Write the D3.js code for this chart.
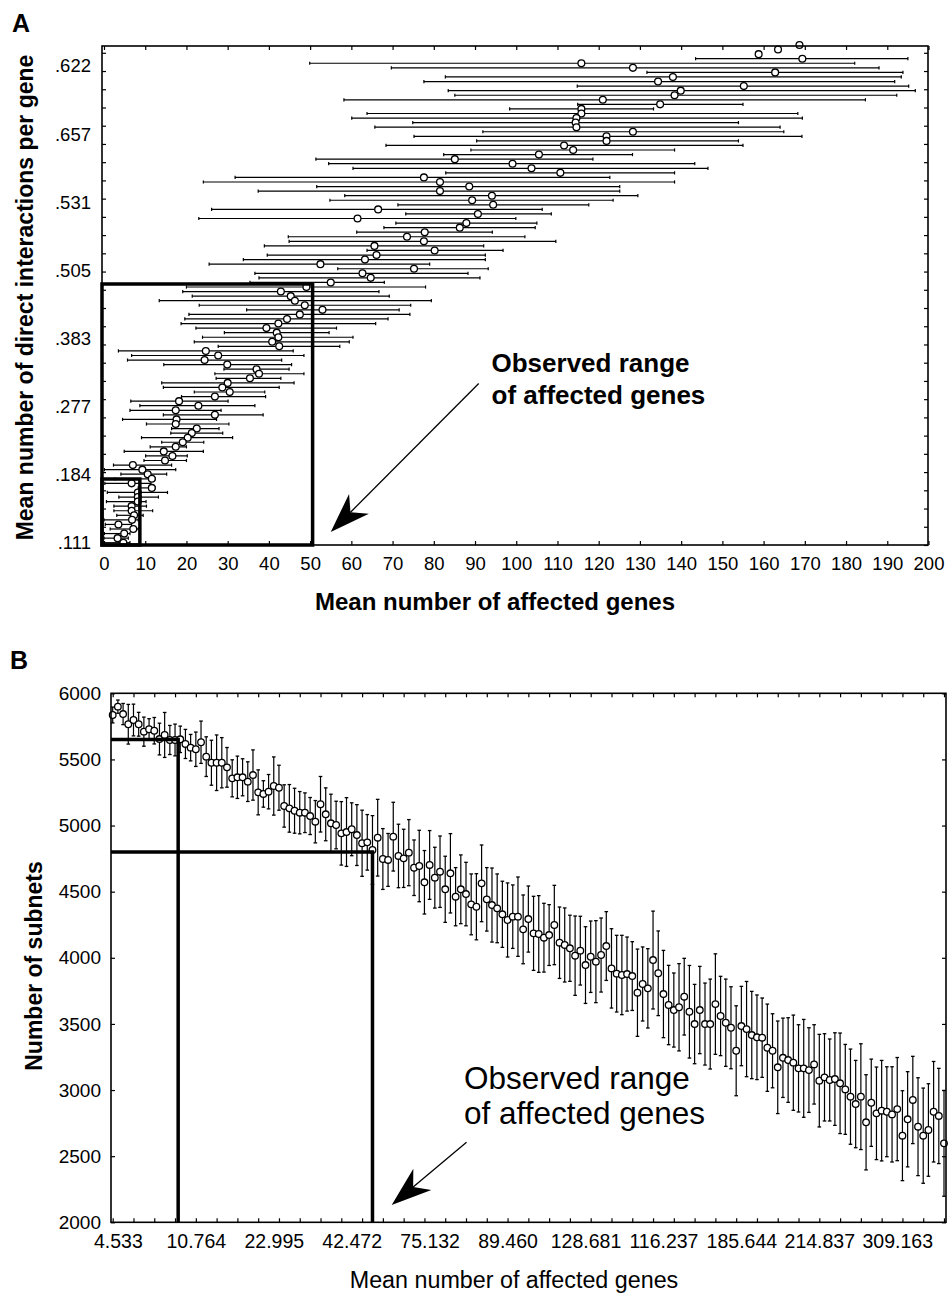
<!DOCTYPE html>
<html>
<head>
<meta charset="utf-8">
<script src="https://cdn.jsdelivr.net/npm/d3@7"></script>
<style>
  html, body { margin: 0; padding: 0; background: #fff; }
  svg { display: block; font-family: "Liberation Sans", Arial, Helvetica, sans-serif; }
</style>
</head>
<body>
<div id="chart"></div>
<script>
const WIDTH = 948;
const HEIGHT = 1294;

// ---- panel A : one row per simulated subnet size, top to bottom ----
const aYLabels = [".111", ".184", ".277", ".383", ".505", ".531", ".657", ".622"];

const aLow = [null, null, null,
  143.5, 49.9, 69.7, 131.7, 82.8, 77.6, 114.8, 83.5, 85.1, 58.2,
  114.9, 98.4, 63.8, 60.1, 74.9, 65.7, 91.9, 75.2, 90.4, 68.4,
  89.0, 82.4, 51.4, 54.5, 60.4, 82.9, 31.8, 24.1, 51.6, 37.4,
  58.4, 54.8, 71.3, 26.1, 73.2, 23.0, 70.8, 67.9, 61.3, 44.7,
  44.9, 38.9, 63.8, 39.6, 33.8, 25.5, 56.7, 36.6, 37.6, 35.4,
  20.0, 19.1, 21.4, 13.4, 23.1, 34.6, 20.6, 19.6, 18.7, 22.3,
  29.2, 23.9, 21.9, 27.7, 3.5, 6.7, 5.7, 14.5, 29.1, 26.9,
  27.2, 14.0, 14.4, 21.9, 18.8, 6.5, 8.7, 6.3, 14.4, 4.5,
  10.3, 16.4, 16.2, 9.1, 14.0, 11.2, 4.9, 10.1, 9.7, 2.3,
  0.1, 4.1, 2.7, 0.2, 8.3, 0.8, 3.6, 0.6, 2.4, 2.4,
  3.1, 0.0, 0.3, 1.5, 0.1, 0.0, 0.0];

const aMean = [168.7, 163.5, 158.8,
  169.4, 115.8, 128.3, 162.8, 138.0, 134.4, 155.2, 139.9, 138.4, 121.0,
  134.9, 115.8, 115.8, 114.6, 114.4, 114.6, 128.3, 121.9, 121.9, 111.6,
  113.8, 105.5, 85.1, 99.1, 103.7, 110.7, 77.6, 81.5, 88.6, 81.5,
  94.1, 89.3, 94.4, 66.5, 90.7, 61.5, 87.9, 86.3, 77.8, 73.5,
  77.6, 65.6, 80.2, 66.1, 63.3, 52.5, 75.2, 62.7, 64.7, 55.0,
  49.1, 42.9, 45.3, 46.3, 48.7, 53.0, 47.5, 44.4, 42.3, 39.4,
  41.9, 42.3, 40.8, 42.5, 24.7, 27.7, 24.4, 29.9, 37.0, 37.6,
  35.4, 30.0, 28.7, 30.5, 26.9, 18.2, 22.9, 17.4, 26.9, 17.6,
  17.4, 22.5, 21.3, 20.3, 19.1, 17.4, 14.5, 16.6, 14.8, 7.0,
  9.3, 10.6, 11.6, 6.7, 11.6, 8.2, 8.2, 8.2, 6.7, 6.7,
  7.3, 6.8, 3.5, 7.1, 4.9, 3.3, 4.7];

const aHigh = [null, null, null,
  195.0, 182.1, 188.0, 193.8, 193.4, 191.8, 195.2, 196.8, 192.3, 184.7,
  155.0, 133.3, 168.3, 169.4, 153.9, 164.0, 164.9, 169.3, 153.9, 155.0,
  138.4, 128.2, 118.6, 143.3, 146.5, 138.4, 122.7, 138.4, 125.1, 125.1,
  129.5, 123.5, 117.6, 106.3, 108.5, 99.9, 105.0, 104.6, 94.2, 102.1,
  109.6, 92.1, 96.8, 92.5, 92.5, 79.0, 93.2, 88.3, 91.2, 68.0,
  78.0, 66.7, 69.2, 79.4, 74.4, 71.6, 74.2, 68.9, 65.9, 56.4,
  54.6, 60.4, 59.5, 57.2, 45.9, 48.5, 43.1, 45.5, 44.9, 48.5,
  42.9, 46.1, 42.5, 39.0, 39.2, 30.1, 36.6, 28.4, 38.6, 27.3,
  30.3, 27.9, 28.8, 31.2, 24.2, 20.0, 24.1, 20.2, 20.0, 16.4,
  17.4, 15.2, 12.4, 11.4, 12.4, 15.4, 13.2, 10.2, 10.3, 11.8,
  9.5, 8.3, 6.7, 8.3, 6.3, 5.9, 6.3];

// ---- panel B : subnet counts along the ordered sizes ----
const bXLabels = ["4.533", "10.764", "22.995", "42.472", "75.132", "89.460",
  "128.681", "116.237", "185.644", "214.837", "309.163"];

const bMean = [
  5836, 5899, 5843, 5766, 5798, 5766, 5710, 5728, 5717, 5654,
  5685, 5647, 5647, 5652, 5617, 5589, 5577, 5630, 5521, 5475,
  5475, 5475, 5440, 5357, 5365, 5365, 5332, 5382, 5251, 5239,
  5256, 5299, 5286, 5148, 5130, 5112, 5097, 5097, 5072, 5029,
  5161,
  5085, 5017, 5004, 4941, 4951, 4972, 4928, 4866, 4873, 4815,
  4908, 4747, 4740, 4916, 4770, 4752, 4795, 4681, 4694, 4571,
  4702, 4606, 4651, 4518, 4639, 4462, 4518, 4482, 4404, 4386,
  4563, 4442, 4399, 4374, 4329, 4286, 4311, 4311, 4215, 4293,
  4185, 4180, 4152, 4172, 4248, 4114, 4097, 4072, 4016, 4054,
  3945, 4008, 3971, 4021, 4089, 3920,
  3880,
  3870, 3877, 3862, 3736, 3802, 3769, 3983, 3883, 3726, 3643,
  3605, 3626, 3706, 3592, 3499, 3605, 3499, 3499, 3650, 3560,
  3509, 3471, 3297, 3484, 3461, 3416, 3399, 3396, 3320, 3297,
  3172, 3244, 3227, 3207, 3164, 3164, 3151, 3194, 3071, 3096,
  3076, 3083, 3051, 3005, 2950, 2894, 2950, 2756, 2904, 2824,
  2844, 2836, 2816, 2856, 2655, 2779, 2925, 2723, 2655, 2698,
  2836, 2804, 2597];

// half length of each error bar
const bErr = [
  60, 50, 80, 150, 120, 90, 110, 80, 100, 120,
  170, 110, 120, 100, 110, 100, 130, 160, 150, 170,
  210, 190, 150, 140, 160, 140, 150, 190, 170, 100,
  130, 220, 170, 160, 180, 170, 160, 150, 140, 160,
  210,
  200, 220, 180, 240, 260, 200, 230, 250, 210, 260,
  290, 230, 200, 260, 240, 220, 250, 210, 270, 240,
  260, 230, 270, 250, 300, 220, 260, 240, 230, 250,
  290, 240, 280, 260, 250, 280, 240, 300, 260, 250,
  280, 290, 260, 230, 300, 270, 280, 250, 300, 260,
  290, 270, 310, 280, 260, 300,
  290, 300, 280, 260, 330, 280, 300, 370, 320, 330,
  300, 280, 330, 290, 350, 300, 330, 310, 340, 380,
  300, 330, 310, 340, 300, 360, 330, 320, 300, 330,
  280, 350, 300, 320, 360, 330, 370, 320, 300, 350,
  330, 310, 350, 380, 340, 360, 330, 400, 360, 330,
  350, 380, 340, 360, 390, 340, 360, 330, 370, 360,
  350, 380, 360, 400];

const svg = d3.select("#chart")
  .append("svg")
  .attr("width", WIDTH)
  .attr("height", HEIGHT);

// draws a line ending in a filled dart-shaped head
function arrow(g, x1, y1, x2, y2) {
  const len = Math.hypot(x2 - x1, y2 - y1);
  const ux = (x2 - x1) / len, uy = (y2 - y1) / len;
  const px = -uy, py = ux;
  const hl = 40, hw = 14, notch = 28;
  g.append("line")
    .attr("x1", x1).attr("y1", y1)
    .attr("x2", x2 - ux * notch).attr("y2", y2 - uy * notch)
    .attr("stroke", "#000").attr("stroke-width", 1.3);
  g.append("path")
    .attr("d", `M${x2},${y2}
      L${x2 - ux * hl + px * hw},${y2 - uy * hl + py * hw}
      L${x2 - ux * notch},${y2 - uy * notch}
      L${x2 - ux * hl - px * hw},${y2 - uy * hl - py * hw}Z`)
    .attr("fill", "#000");
}

function styleAxis(g, size) {
  g.select(".domain").remove();
  g.selectAll("line").attr("stroke", "#000").attr("stroke-width", 1.2);
  g.selectAll("text").attr("fill", "#000").style("font-size", size + "px");
}

// ================= PANEL A =================
const A = { left: 102, right: 928, top: 46, bottom: 545 };
const xA = d3.scaleLinear().domain([0, 200]).range([104, 928.5]);
const yA = d3.scaleLinear().domain([0, 7]).range([543, 66]);
const rowY = d3.scalePoint().domain(d3.range(aMean.length)).range([45, 542.7]);
const minorA = d3.scaleLinear().domain([0, 27]).range([545, 52.8]);

const gA = svg.append("g");

gA.append("text")
  .attr("x", 12).attr("y", 32)
  .text("A")
  .style("font-size", "25px").style("font-weight", "700");

const aRows = aMean.map((c, i) => ({ i, lo: aLow[i], c, hi: aHigh[i] }));
const withBars = aRows.filter(d => d.lo !== null);

gA.selectAll(".hbar")
  .data(withBars)
  .enter().append("line")
  .attr("x1", d => xA(d.lo)).attr("x2", d => xA(d.hi))
  .attr("y1", d => rowY(d.i)).attr("y2", d => rowY(d.i))
  .attr("stroke", "#000").attr("stroke-width", 1.2);

gA.selectAll(".capL")
  .data(withBars.flatMap(d => [d.lo, d.hi].map(v => ({ i: d.i, v }))))
  .enter().append("line")
  .attr("x1", d => xA(d.v)).attr("x2", d => xA(d.v))
  .attr("y1", d => rowY(d.i) - 1.6).attr("y2", d => rowY(d.i) + 1.6)
  .attr("stroke", "#000").attr("stroke-width", 1.2);

gA.selectAll(".dotA")
  .data(aRows)
  .enter().append("circle")
  .attr("cx", d => xA(d.c)).attr("cy", d => rowY(d.i))
  .attr("r", 3.4)
  .attr("fill", "#fff").attr("stroke", "#000").attr("stroke-width", 1.3);

// frame and inner ticks
gA.append("rect")
  .attr("x", A.left).attr("y", A.top)
  .attr("width", A.right - A.left).attr("height", A.bottom - A.top)
  .attr("fill", "none").attr("stroke", "#000").attr("stroke-width", 1.6);

const xTicksA = d3.range(0, 201, 10);
gA.append("g").attr("transform", `translate(0,${A.bottom})`)
  .call(d3.axisBottom(xA).tickValues(xTicksA).tickSizeInner(-4).tickSizeOuter(0).tickPadding(12))
  .call(g => styleAxis(g, 18.5));
gA.append("g").attr("transform", `translate(0,${A.top})`)
  .call(d3.axisTop(xA).tickValues(xTicksA).tickSizeInner(-4).tickSizeOuter(0).tickFormat(""))
  .call(g => styleAxis(g, 18));
gA.append("g").attr("transform", `translate(${A.left},0)`)
  .call(d3.axisLeft(minorA).tickValues(d3.range(28)).tickSizeInner(-4).tickSizeOuter(0).tickFormat(""))
  .call(g => styleAxis(g, 18));
gA.append("g").attr("transform", `translate(${A.right},0)`)
  .call(d3.axisRight(minorA).tickValues(d3.range(28)).tickSizeInner(-4).tickSizeOuter(0).tickFormat(""))
  .call(g => styleAxis(g, 18));
gA.append("g").attr("transform", `translate(${A.left},0)`)
  .call(d3.axisLeft(yA).tickValues(d3.range(8)).tickSize(0).tickPadding(11)
    .tickFormat(i => aYLabels[i]))
  .call(g => styleAxis(g, 18.5));

// observed range boxes
const aBoxes = [{ x: 50.6, y: 3.80 }, { x: 8.7, y: 0.94 }];
gA.selectAll(".box")
  .data(aBoxes)
  .enter().append("path")
  .attr("d", d => `M${A.left},${yA(d.y)}H${xA(d.x)}V${A.bottom}H${A.left}Z`)
  .attr("fill", "none").attr("stroke", "#000").attr("stroke-width", 3.5);

arrow(gA, xA(90.9), yA(2.34), xA(55.0), yA(0.16));

gA.append("text")
  .attr("x", xA(94)).attr("y", yA(2.51))
  .style("font-size", "26px").style("font-weight", "700")
  .selectAll("tspan")
  .data(["Observed range", "of affected genes"])
  .enter().append("tspan")
  .attr("x", xA(94))
  .attr("dy", (d, i) => i ? 32 : 0)
  .text(d => d);

gA.append("text")
  .attr("x", 495).attr("y", 610)
  .attr("text-anchor", "middle")
  .style("font-size", "24px").style("font-weight", "700")
  .text("Mean number of affected genes");

gA.append("text")
  .attr("transform", `translate(33,${(A.top + A.bottom) / 2 + 2}) rotate(-90)`)
  .attr("text-anchor", "middle")
  .style("font-size", "23px").style("font-weight", "700")
  .text("Mean number of direct interactions per gene");

// ================= PANEL B =================
const B = { left: 111, right: 946, top: 693.3, bottom: 1222.3 };
const xB = d3.scaleLinear().domain([0, bMean.length - 1]).range([112.7, 944]);
const yB = d3.scaleLinear().domain([2000, 6000]).range([B.bottom, B.top]);

const gB = svg.append("g");

gB.append("text")
  .attr("x", 10).attr("y", 669)
  .text("B")
  .style("font-size", "25px").style("font-weight", "700");

const bData = bMean.map((m, i) => ({ i, m, e: bErr[i] }));

gB.selectAll(".vbar")
  .data(bData)
  .enter().append("line")
  .attr("x1", d => xB(d.i)).attr("x2", d => xB(d.i))
  .attr("y1", d => yB(d.m - d.e)).attr("y2", d => yB(d.m + d.e))
  .attr("stroke", "#000").attr("stroke-width", 1.2);

gB.selectAll(".capB")
  .data(bData.flatMap(d => [d.m - d.e, d.m + d.e].map(v => ({ i: d.i, v }))))
  .enter().append("line")
  .attr("x1", d => xB(d.i) - 1.8).attr("x2", d => xB(d.i) + 1.8)
  .attr("y1", d => yB(d.v)).attr("y2", d => yB(d.v))
  .attr("stroke", "#000").attr("stroke-width", 1.3);

gB.selectAll(".dotB")
  .data(bData)
  .enter().append("circle")
  .attr("cx", d => xB(d.i)).attr("cy", d => yB(d.m))
  .attr("r", 3.3)
  .attr("fill", "#fff").attr("stroke", "#000").attr("stroke-width", 1.3);

gB.append("rect")
  .attr("x", B.left).attr("y", B.top)
  .attr("width", B.right - B.left).attr("height", B.bottom - B.top)
  .attr("fill", "none").attr("stroke", "#000").attr("stroke-width", 1.6);

const xTicksB = d3.range(0, bMean.length, 4);
const labelIdx = bXLabels.map((_, k) => 1 + 15 * k);
gB.append("g").attr("transform", `translate(0,${B.bottom})`)
  .call(d3.axisBottom(xB).tickValues(xTicksB).tickSizeInner(-4).tickSizeOuter(0).tickFormat(""))
  .call(g => styleAxis(g, 19));
gB.append("g").attr("transform", `translate(0,${B.bottom})`)
  .call(d3.axisBottom(xB).tickValues(labelIdx).tickSize(0).tickPadding(12)
    .tickFormat((d, k) => bXLabels[k]))
  .call(g => styleAxis(g, 19.5));
gB.append("g").attr("transform", `translate(0,${B.top})`)
  .call(d3.axisTop(xB).tickValues(xTicksB).tickSizeInner(-4).tickSizeOuter(0).tickFormat(""))
  .call(g => styleAxis(g, 19));
const yTicksB = d3.range(2000, 6001, 500);
gB.append("g").attr("transform", `translate(${B.left},0)`)
  .call(d3.axisLeft(yB).tickValues(yTicksB).tickSizeInner(-4).tickSizeOuter(0).tickPadding(10)
    .tickFormat(d3.format("d")))
  .call(g => styleAxis(g, 19));
gB.append("g").attr("transform", `translate(${B.right},0)`)
  .call(d3.axisRight(yB).tickValues(yTicksB).tickSizeInner(-4).tickSizeOuter(0).tickFormat(""))
  .call(g => styleAxis(g, 19));

// observed range guide lines
const bGuides = [{ x: 12.6, y: 5650 }, { x: 50.0, y: 4800 }];
gB.selectAll(".guide")
  .data(bGuides)
  .enter().append("path")
  .attr("d", d => `M${B.left},${yB(d.y)}H${xB(d.x)}V${B.bottom}`)
  .attr("fill", "none").attr("stroke", "#000").attr("stroke-width", 3.5);

arrow(gB, xB(68.1), yB(2605), xB(53.7), yB(2130));

gB.append("text")
  .attr("x", xB(67.6)).attr("y", yB(3011))
  .style("font-size", "31.5px")
  .selectAll("tspan")
  .data(["Observed range", "of affected genes"])
  .enter().append("tspan")
  .attr("x", xB(67.6))
  .attr("dy", (d, i) => i ? 35 : 0)
  .text(d => d);

gB.append("text")
  .attr("x", 514).attr("y", 1288)
  .attr("text-anchor", "middle")
  .style("font-size", "23.3px")
  .text("Mean number of affected genes");

gB.append("text")
  .attr("transform", "translate(41.5,966) rotate(-90)")
  .attr("text-anchor", "middle")
  .style("font-size", "23px").style("font-weight", "700")
  .text("Number of subnets");
</script>
</body>
</html>
